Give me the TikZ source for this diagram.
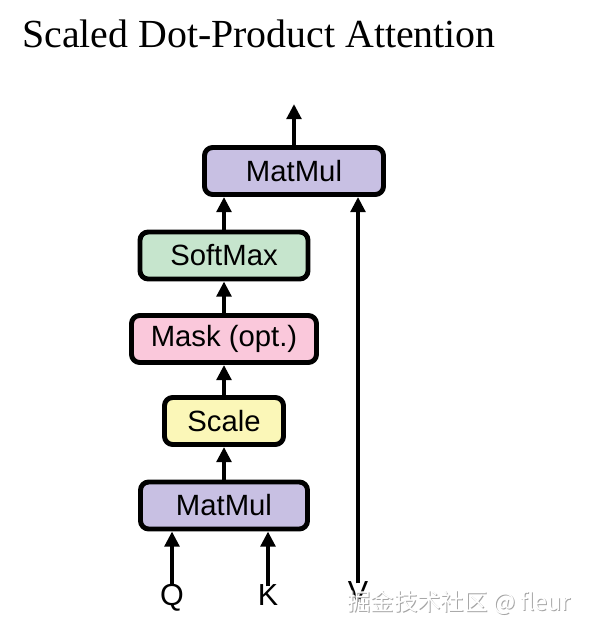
\documentclass[tikz,border=0pt]{standalone}
\usepackage{fontspec}
\setmainfont{Liberation Serif}
\setsansfont{Liberation Sans}
\newfontfamily\cjkfont{Noto Sans CJK SC}
\usetikzlibrary{arrows.meta}
\definecolor{mulpurple}{HTML}{C8C0E3}
\definecolor{softgreen}{HTML}{C6E5CD}
\definecolor{maskpink}{HTML}{FAC8DB}
\definecolor{scaleyellow}{HTML}{FBF7B8}

\begin{document}
\begin{tikzpicture}[x=0.03cm, y=-0.03cm,
    op/.style={draw=black, fill=#1, line width=4.2pt, rounded corners=7pt,
               minimum height=1.41cm, inner sep=0pt,
               font=\sffamily\fontsize{25}{30}\selectfont},
    flow/.style={-{Triangle[length=13pt, width=12.5pt]}, line width=4.2pt},
    inp/.style={font=\sffamily\fontsize{26}{30}\selectfont, anchor=base,
                inner xsep=0pt, inner ysep=8.5pt, text height=0.72em, text depth=0pt},
]
    \useasboundingbox (0,0) rectangle (592,636);

    \node[anchor=base west, inner sep=0pt, font=\fontsize{34}{40}\selectfont] (title) at (22,47) {Scaled Dot-Product Attention};

    % === blocks ===
    \node[op=mulpurple, minimum width=5.01cm] (matmul1) at (224,505.5) {MatMul};
    \node[op=scaleyellow, minimum width=3.57cm] (scale) at (224,421) {Scale};
    \node[op=maskpink, minimum width=5.55cm] (mask) at (224,339) {Mask (opt.)};
    \node[op=softgreen, minimum width=5.04cm] (softmax) at (224,255.5) {SoftMax};
    \node[op=mulpurple, minimum width=5.37cm] (matmul2) at (294,171) {MatMul};
    \coordinate (out) at (294,104);

    % === inputs ===
    \node[inp] (q) at (172,605) {Q};
    \node[inp] (k) at (268,605) {K};
    \node[inp] (v) at (358,602) {V};

    % === arrows ===
    \draw[flow] (q.north) -- (q.north |- matmul1.south);
    \draw[flow] (k.north) -- (k.north |- matmul1.south);
    \draw[flow] (matmul1) -- (scale);
    \draw[flow] (scale) -- (mask);
    \draw[flow] (mask) -- (softmax);
    \draw[flow] (softmax.north) -- (softmax.north |- matmul2.south);
    \draw[flow] (v.north) -- (v.north |- matmul2.south);
    \draw[flow] (matmul2) -- (out);

    % watermark
    \node[anchor=west, inner sep=0pt, text=gray!70, font=\cjkfont\fontsize{20}{24}\selectfont] (wmshadow) at (348,604) {掘金技术社区 @ fleur};
    \node[anchor=west, inner sep=0pt, text=white, font=\cjkfont\fontsize{20}{24}\selectfont] (wm) at (347,603) {掘金技术社区 @ fleur};
\end{tikzpicture}
\end{document}
